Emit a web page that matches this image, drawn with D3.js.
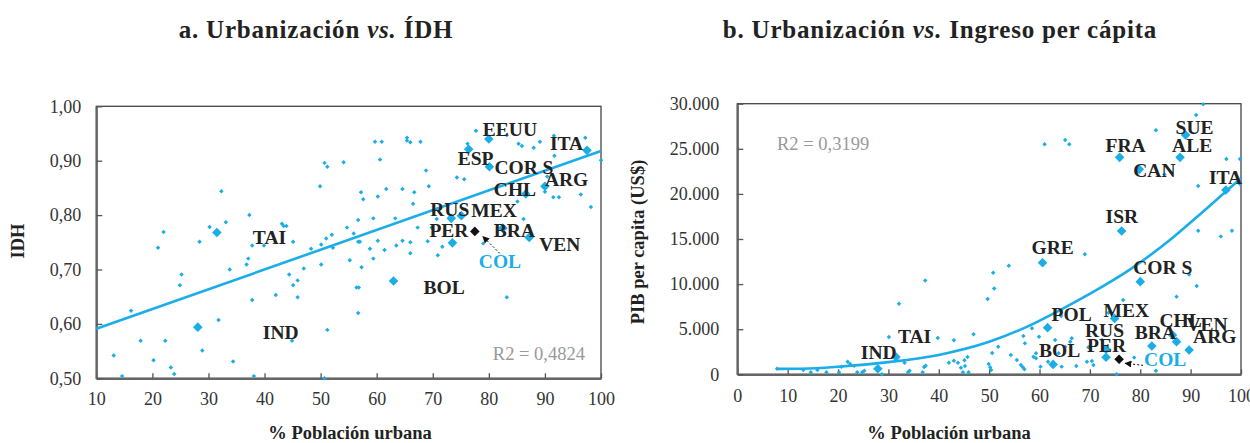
<!DOCTYPE html>
<html>
<head>
<meta charset="utf-8">
<script src="https://cdn.jsdelivr.net/npm/d3@7"></script>
<style>
body{margin:0;background:#fff;}
text{font-family:"Liberation Serif","Times New Roman",Times,Tinos,serif;}
</style>
</head>
<body>
<svg width="1250" height="443"></svg>
<script>

//Panel a: urbanizacion vs IDH
var paisesA=["IND","TAI","BOL","RUS","PER","MEX","ESP","COL","EEUU","COR S","BRA","CHL","VEN","ARG","ITA"];
var urbanPaisesA=[28.1,31.5,63.0,73.3,73.5,75.1,76.4,77.5,80.0,80.1,82.5,86.6,87.2,90.0,97.5];
var idhPaisesA=[0.594,0.768,0.679,0.794,0.749,0.799,0.921,0.770,0.940,0.889,0.776,0.839,0.759,0.853,0.919];
var otrosA=[[13.1,0.542],[14.6,0.504],[16.2,0.624],[17.9,0.569],[20.2,0.533],[21.0,0.740],[22.0,0.769],[22.3,0.569],
    [23.3,0.520],[23.9,0.508],[24.9,0.671],[25.2,0.691],[28.4,0.751],[28.9,0.551],[30.2,0.778],[31.8,0.607],
    [32.3,0.844],[33.1,0.787],[33.8,0.700],[34.4,0.531],[36.8,0.709],[37.1,0.720],[37.3,0.800],[37.8,0.744],
    [37.8,0.644],[38.1,0.504],[39.9,0.744],[42.0,0.653],[43.1,0.784],[43.4,0.780],[43.9,0.780],[44.4,0.691],
    [44.9,0.569],[45.1,0.751],[45.1,0.671],[45.9,0.680],[45.9,0.649],[47.0,0.702],[48.3,0.738],[49.9,0.853],
    [50.1,0.746],[50.1,0.709],[50.7,0.896],[51.2,0.889],[51.0,0.757],[51.2,0.589],[50.7,0.500],[52.0,0.764],
    [52.2,0.740],[54.1,0.897],[54.7,0.777],[55.2,0.717],[55.9,0.766],[56.4,0.667],[56.8,0.667],[56.7,0.620],
    [56.7,0.751],[57.0,0.751],[56.7,0.791],[57.2,0.842],[57.3,0.704],[57.6,0.829],[58.8,0.738],[59.4,0.794],
    [59.4,0.720],[59.7,0.935],[60.2,0.834],[60.2,0.753],[60.6,0.902],[60.9,0.935],[61.4,0.736],[61.7,0.848],
    [63.3,0.794],[63.5,0.744],[64.6,0.753],[64.6,0.848],[65.4,0.942],[65.4,0.937],[66.0,0.934],[66.0,0.730],
    [66.0,0.750],[66.5,0.821],[66.7,0.842],[67.3,0.777],[67.8,0.935],[68.8,0.882],[69.1,0.752],[69.3,0.853],
    [69.8,0.777],[70.7,0.793],[70.9,0.726],[71.7,0.742],[74.3,0.869],[75.6,0.866],[76.2,0.931],[77.7,0.955],
    [79.0,0.748],[83.2,0.947],[83.2,0.649],[85.1,0.825],[85.3,0.931],[85.9,0.927],[86.2,0.793],[87.2,0.777],
    [88.0,0.924],[89.1,0.935],[90.0,0.843],[90.4,0.871],[91.5,0.833],[92.5,0.833],[91.6,0.946],[91.7,0.909],
    [96.4,0.838],[97.2,0.942],[98.2,0.815],[100.0,0.901]];
var tendenciaA=[[10,0.591],[100,0.918]];
var ticksXA=[10,20,30,40,50,60,70,80,90,100];
var ticksYA=[0.5,0.6,0.7,0.8,0.9,1.0];

//Panel b: urbanizacion vs PIB per capita
var paisesB=["IND","TAI","GRE","POL","BOL","RUS","PER","MEX","COL","FRA","ISR","CAN","COR S","BRA","CHL","VEN","ALE","SUE","ARG","ITA"];
var urbanPaisesB=[27.9,31.5,60.6,61.6,62.7,73.2,73.2,74.9,75.8,75.9,76.3,79.8,80.0,82.3,86.4,87.2,87.9,89.0,89.7,97.0];
var pibPaisesB=[624,1920,12370,5170,1100,2770,1885,6200,1660,24050,15890,22720,10270,3140,4360,3620,24050,26530,2690,20430];
var otrosB=[[7.9,624],[13.1,477],[14.6,218],[15.9,477],[17.7,218],[20.2,218],[20.7,846],[21.9,1400],[22.4,1142],
    [23.2,957],[23.8,218],[24.8,218],[25.2,403],[28.0,2102],[28.7,0],[30.1,4130],[32.1,7830],[33.2,1290],
    [33.9,218],[34.2,403],[36.8,218],[37.1,810],[37.4,957],[37.3,10410],[39.8,4025],[42.0,1290],[43.0,3770],
    [43.0,1510],[43.8,1290],[44.4,735],[44.8,218],[45.1,1550],[45.2,920],[45.7,1920],[45.9,218],[46.9,4430],
    [49.7,8350],[49.9,1142],[50.2,772],[50.4,477],[50.6,2360],[50.8,11270],[51.0,9520],[51.8,3060],[53.9,12040],
    [54.3,2140],[55.5,1590],[56.3,1030],[56.7,770],[57.0,550],[56.8,4250],[57.1,3430],[58.5,5100],[58.8,1950],
    [59.3,2330],[59.3,1770],[59.9,4170],[60.2,850],[61.7,1400],[63.1,3800],[63.8,2330],[64.3,6460],[64.4,850],
    [65.1,3060],[66.1,3620],[66.4,3990],[67.3,920],[69.0,13300],[69.4,1400],[69.7,2990],[70.4,1480],[70.7,1030],
    [72.4,3800],[73.7,6830],[75.3,0],[76.6,8240],[78.8,1850],[83.1,400],[87.2,8610],[89.7,11070],[91.2,9790],
    [94.1,3620],[92.5,29930],[91.1,28740],[83.1,27050],[61.0,25500],[65.1,25980],[65.9,25500],[84.8,22160],
    [97.1,23870],[99.8,23870],[99.8,21090],[91.5,20870],[91.5,15920],[96.0,15290],[98.2,15920]];
var tendenciaB=[[8,600],[13,620],[20,830],[30,1350],[40,2150],[50,3600],[58,5400],[65,7400],[71,9250],
    [78,11640],[86,14940],[91,17320],[97,20260],[100,21730]];
var ticksXB=[0,10,20,30,40,50,60,70,80,90,100];
var ticksYB=[0,5000,10000,15000,20000,25000,30000];

//label offsets (px) from each country's marker
var offsetsA={"IND":[65,12],"TAI":[36,11],"BOL":[30,13],"RUS":[-21,-2],"PER":[-23,-6],"MEX":[10,1],"ESP":[-11,16],
    "COL":[4,37],"EEUU":[-6,-3],"COR S":[5,7],"BRA":[-9,9],"CHL":[-32,2],"VEN":[10,14],"ARG":[0,0],"ITA":[-37,0]};
var offsetsB={"IND":[-17,-10],"TAI":[2,-14],"GRE":[-11,-9],"POL":[4,-7],"BOL":[-14,-7],"RUS":[-21,-12],"PER":[-19,-5],
    "MEX":[-11,-1],"COL":[25,7],"FRA":[-14,-5],"ISR":[-16,-8],"CAN":[-6,8],"COR S":[-7,-8],"BRA":[-17,-7],
    "CHL":[-13,-8],"VEN":[10,-11],"ALE":[-8,-5],"SUE":[-10,-1],"ARG":[4,-7],"ITA":[-17,-6]};

var azul="#1aade8";
var fuente="'Liberation Serif','Times New Roman',Times,Tinos,serif";
var es=d3.formatLocale({decimal:",",thousands:".",grouping:[3],currency:["","$"]});

var svg=d3.select("svg");

svg.append("defs").append("marker")
    .attr("id","flecha")
    .attr("viewBox","0 0 10 10")
    .attr("refX",9).attr("refY",5)
    .attr("markerWidth",7).attr("markerHeight",7)
    .attr("orient","auto")
    .append("path")
    .attr("d","M0,0L10,5L0,10z")
    .style("fill","#111");

function drawPanel(p)
{
    var x=d3.scaleLinear().domain(p.xDomain).range([p.left,p.right]);
    var y=d3.scaleLinear().domain(p.yDomain).range([p.bottom,p.top]);
    var g=svg.append("g");

    //frame
    g.append("rect")
        .attr("x",p.left).attr("y",p.top)
        .attr("width",p.right-p.left).attr("height",p.bottom-p.top)
        .style("fill","none").attr("stroke","#444").attr("stroke-width",1.3);

    var ax=g.append("g")
        .attr("transform","translate(0,"+p.bottom+")")
        .call(d3.axisBottom(x).tickValues(p.ticksX).tickSizeInner(-5).tickSizeOuter(0).tickPadding(p.padX).tickFormat(d3.format("d")));
    var ay=g.append("g")
        .attr("transform","translate("+p.left+",0)")
        .call(d3.axisLeft(y).tickValues(p.ticksY).tickSizeInner(-6).tickSizeOuter(0).tickPadding(p.padY).tickFormat(p.fmt));
    [ax,ay].forEach(function(a){
        a.attr("font-family",fuente);
        a.select(".domain").attr("stroke","#666").attr("stroke-width",2.2);
        a.selectAll(".tick line").attr("stroke","#555").attr("stroke-width",1.3);
        a.selectAll(".tick text").style("font-size","18px").style("fill","#333").style("font-family",fuente);
    });

    //other countries
    g.selectAll("path.otro")
        .data(p.otros)
        .enter()
        .append("path")
        .attr("class","otro")
        .attr("d",d3.symbol(d3.symbolSquare,10))
        .attr("transform",function(d){ return "translate("+x(d[0])+","+y(d[1])+") rotate(45)"; })
        .style("fill",azul);

    //trend
    g.append("path")
        .datum(p.tendencia)
        .attr("d",d3.line().x(function(d){return x(d[0]);}).y(function(d){return y(d[1]);}).curve(d3.curveMonotoneX))
        .style("fill","none").attr("stroke",azul).attr("stroke-width",2.6);

    var paises=p.paises.map(function(n,i){ return {name:n,x:p.urb[i],y:p.val[i]}; });

    g.selectAll("path.pais")
        .data(paises,function(d){return d.name;})
        .enter()
        .append("path")
        .attr("class","pais")
        .attr("d",d3.symbol(d3.symbolSquare,46))
        .attr("transform",function(d){ return "translate("+x(d.x)+","+y(d.y)+") rotate(45)"; })
        .style("fill",function(d){ return d.name=="COL" ? "#111" : azul; });

    g.selectAll("text.pais")
        .data(paises)
        .enter()
        .append("text")
        .attr("class","pais")
        .attr("x",function(d){ return x(d.x)+p.offsets[d.name][0]; })
        .attr("y",function(d){ return y(d.y)+p.offsets[d.name][1]; })
        .text(function(d){ return d.name; })
        .style("font-size","19.5px").style("font-weight","bold")
        .style("fill",function(d){ return d.name=="COL" ? azul : "#222"; });

    //COL leader
    var col=paises.filter(function(d){return d.name=="COL";})[0];
    g.append("line")
        .attr("x1",x(col.x)+p.flecha[0]).attr("y1",y(col.y)+p.flecha[1])
        .attr("x2",x(col.x)+p.flecha[2]).attr("y2",y(col.y)+p.flecha[3])
        .attr("stroke","#111").attr("stroke-width",1).attr("stroke-dasharray","2,2")
        .attr("marker-end","url(#flecha)");

    g.append("text")
        .attr("x",p.r2[0]).attr("y",p.r2[1])
        .attr("text-anchor",p.r2[2])
        .text(p.r2[3])
        .style("font-size","18.5px").style("fill","#999");

    //titles
    var t=svg.append("text")
        .attr("x",p.titleX).attr("y",38)
        .attr("text-anchor","middle")
        .style("font-size","25px").style("font-weight","bold").style("fill","#222")
        .style("letter-spacing","0.8px");
    t.append("tspan").text(p.title[0]+" ");
    t.append("tspan").style("font-style","italic").text("vs.");
    t.append("tspan").text(" "+p.title[1]);

    svg.append("text")
        .attr("x",p.xTitleX).attr("y",439)
        .attr("text-anchor","middle")
        .text("% Población urbana")
        .style("font-size","18.5px").style("font-weight","bold").style("fill","#222");

    svg.append("text")
        .attr("transform","translate("+p.yTitleX+","+p.yTitleY+") rotate(-90)")
        .attr("text-anchor","middle")
        .text(p.yTitle)
        .style("font-size","18.5px").style("font-weight","bold").style("fill","#222");
}

drawPanel({
    xDomain:[10,100],yDomain:[0.5,1.0],left:96.3,right:601,top:106.3,bottom:378.3,
    ticksX:ticksXA,ticksY:ticksYA,padX:14,padY:15,fmt:es.format(".2f"),
    otros:otrosA,tendencia:tendenciaA,paises:paisesA,urb:urbanPaisesA,val:idhPaisesA,offsets:offsetsA,
    flecha:[25,22,8,5],r2:[585,360,"end","R2 = 0,4824"],
    title:["a. Urbanización","ÍDH"],titleX:316,xTitleX:350,yTitle:"IDH",yTitleX:24,yTitleY:241
});

drawPanel({
    xDomain:[0,100],yDomain:[0,30000],left:737.3,right:1241,top:103.7,bottom:374.3,
    ticksX:ticksXB,ticksY:ticksYB,padX:15,padY:18,fmt:es.format(",.0f"),
    otros:otrosB,tendencia:tendenciaB,paises:paisesB,urb:urbanPaisesB,val:pibPaisesB,offsets:offsetsB,
    flecha:[24,6,6,4],r2:[777,150,"start","R2 = 0,3199"],
    title:["b. Urbanización","Ingreso per cápita"],titleX:940,xTitleX:949,yTitle:"PIB per capita (US$)",yTitleX:644,yTitleY:242
});

</script>
</body>
</html>
